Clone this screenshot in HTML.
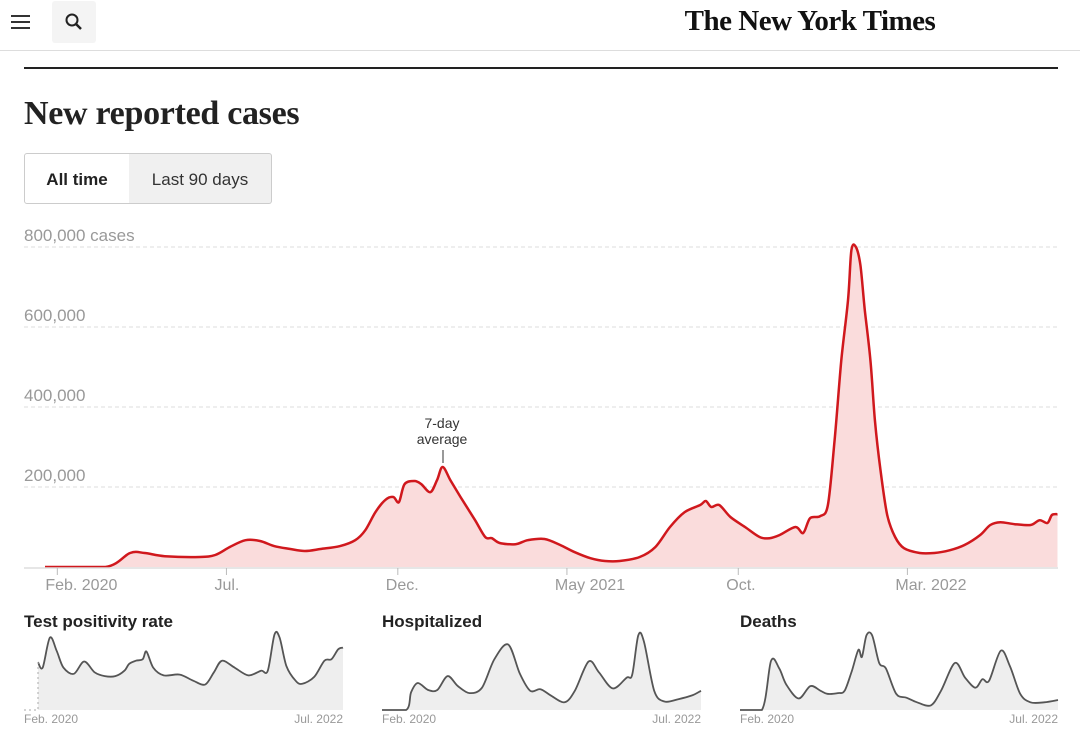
<!DOCTYPE html>
<html><head><meta charset="utf-8"><style>
body{margin:0;width:1080px;height:736px;overflow:hidden;background:#fff;font-family:"Liberation Sans",sans-serif;position:relative}
.abs{position:absolute}
</style></head><body>
<div class="abs" style="left:11px;top:12px;width:20px;height:20px">
 <div style="position:absolute;top:3px;width:19px;height:2px;background:#333"></div>
 <div style="position:absolute;top:9px;width:19px;height:2px;background:#333"></div>
 <div style="position:absolute;top:15px;width:19px;height:2px;background:#333"></div>
</div>
<div class="abs" style="left:52px;top:1px;width:44px;height:42px;background:#f4f4f4;border-radius:3px">
 <svg width="44" height="42"><circle cx="20" cy="19" r="5.5" fill="none" stroke="#222" stroke-width="2"/><line x1="24" y1="23" x2="29" y2="28" stroke="#222" stroke-width="2.5"/></svg>
</div>
<div class="abs" style="left:660px;top:5px;width:300px;text-align:center;font-family:'Liberation Serif',serif;font-weight:bold;font-size:29px;color:#111;letter-spacing:-0.5px">The New York Times</div>
<div class="abs" style="left:0;top:50px;width:1080px;height:1px;background:#ddd"></div>
<div class="abs" style="left:24px;top:67px;width:1034px;height:2px;background:#222"></div>
<div class="abs" style="left:24px;top:95px;font-family:'Liberation Serif',serif;font-weight:bold;font-size:34px;color:#222;letter-spacing:-0.3px">New reported cases</div>
<div class="abs" style="left:24px;top:153px;width:104px;height:49px;border:1px solid #ccc;border-radius:3px 0 0 3px;line-height:51px;text-align:center;font-weight:bold;font-size:17px;color:#222">All time</div>
<div class="abs" style="left:129px;top:153px;width:142px;height:49px;border:1px solid #ccc;border-left:none;border-radius:0 3px 3px 0;background:#f0f0f0;line-height:51px;text-align:center;font-size:17px;color:#333">Last 90 days</div>

<svg class="abs" style="left:0;top:0" width="1080" height="736" id="chart"></svg>

<script>
const days=[0,54,76,89,107,138,152,165,179,192,205,219,232,246,263,277,286,295,304,311,316,321,330,336,344,350,355,362,371,384,393,399,406,420,431,446,460,473,487,500,513,531,545,558,571,585,590,595,602,612,625,638,647,656,670,677,683,692,699,705,711,717,720,724,728,732,737,741,746,752,759,767,781,794,808,821,835,844,853,866,880,888,895,899,904];
const casesK=[0,0,35,35,27,25,30,50,67,65,52,45,40,45,52,67,92,137,168,175,162,207,215,207,187,217,250,217,175,117,75,72,60,57,67,70,55,37,22,15,15,25,50,100,137,155,165,150,155,125,100,75,72,80,100,85,122,127,155,317,517,667,792,800,755,642,517,367,242,130,75,47,35,35,42,55,80,105,112,107,105,117,110,130,132];
const yTicks=[200000,400000,600000,800000];
const yTickLabels=["200,000","400,000","600,000","800,000 cases"];
const xTickDays=[11,162,315,466,619,770];
const xTickLabels=["Feb. 2020","Jul.","Dec.","May 2021","Oct.","Mar. 2022"];
const posDays=[0,14,35,55,75,106,136,167,197,228,255,269,289,309,320,340,371,418,458,493,519,543,580,621,658,678,698,713,733,760,780,815,845,866,886,900];
const posVals=[.62,.55,.94,.77,.55,.47,.63,.49,.44,.44,.51,.6,.64,.66,.76,.55,.45,.46,.38,.33,.49,.64,.55,.45,.51,.51,.98,.94,.57,.38,.34,.43,.64,.66,.79,.81];
const hospDays=[0,68,82,101,130,156,185,214,247,282,317,356,389,418,447,476,515,544,583,612,651,690,706,723,739,768,797,836,875,900];
const hospVals=[0,0,.23,.35,.26,.26,.44,.31,.22,.29,.66,.85,.47,.25,.27,.19,.10,.25,.63,.49,.28,.42,.46,.97,.89,.25,.11,.14,.19,.25];
const deathDays=[0,62,88,111,131,166,199,228,247,277,296,316,335,345,358,374,394,413,442,471,501,540,569,608,637,666,686,705,738,764,793,822,861,900];
const deathVals=[0,0,.64,.54,.33,.15,.31,.25,.21,.22,.25,.5,.78,.69,.97,.97,.61,.54,.21,.16,.10,.06,.25,.61,.42,.29,.4,.38,.77,.57,.21,.10,.1,.13];

const svg=document.getElementById('chart');
const NS='http://www.w3.org/2000/svg';
function mk(t,a){const e=document.createElementNS(NS,t);for(const k in a)e.setAttribute(k,a[k]);svg.appendChild(e);return e;}
function smooth(P,ymax){
 let d='M'+P[0][0].toFixed(1)+','+P[0][1].toFixed(1);
 for(let i=0;i<P.length-1;i++){
  const p0=P[Math.max(0,i-1)],p1=P[i],p2=P[i+1],p3=P[Math.min(P.length-1,i+2)];
  const t=0.16;
  const c1=[p1[0]+(p2[0]-p0[0])*t,Math.min(ymax,p1[1]+(p2[1]-p0[1])*t)];
  const c2=[p2[0]-(p3[0]-p1[0])*t,Math.min(ymax,p2[1]-(p3[1]-p1[1])*t)];
  d+=' C'+c1[0].toFixed(1)+','+c1[1].toFixed(1)+' '+c2[0].toFixed(1)+','+c2[1].toFixed(1)+' '+p2[0].toFixed(1)+','+p2[1].toFixed(1);
 }
 return d;
}
const x=d=>45+d*1.12;
const y=v=>567-v*(320/800000);

yTicks.forEach((v,i)=>{
 const g=mk('line',{x1:24,x2:1058,y1:y(v),y2:y(v),stroke:'#ddd','stroke-dasharray':'4,3'});
 
 
 const t=mk('text',{x:24,y:y(v)-6,fill:'#999','font-size':17});
 t.textContent=yTickLabels[i];
 
 
});
const P=days.map((d,i)=>[x(d),y(casesK[i]*1000)]);
const lineD=smooth(P,y(0));
const area=mk('path',{d:lineD+' L'+x(days[days.length-1])+','+y(0)+' L'+x(days[0])+','+y(0)+'Z',fill:'#fadcdc'});


const line=mk('path',{d:lineD,fill:'none',stroke:'#d0181d','stroke-width':2.5,'stroke-linejoin':'round'});


const base=mk('line',{x1:24,x2:1058,y1:568,y2:568,stroke:'#ddd','stroke-width':1.5});


xTickDays.forEach((d,i)=>{
 const tk=mk('line',{x1:x(d),x2:x(d),y1:568,y2:575,stroke:'#bbb'});
 
 
 const t=mk('text',{x:x(d)-12,y:590,fill:'#999','font-size':16});
 t.textContent=xTickLabels[i];
 
 
});
const a1=mk('text',{x:442,y:428,'text-anchor':'middle','font-size':14,fill:'#333'});a1.textContent='7-day';


const a2=mk('text',{x:442,y:444,'text-anchor':'middle','font-size':14,fill:'#333'});a2.textContent='average';


const a3=mk('line',{x1:443,x2:443,y1:450,y2:463,stroke:'#333'});



function small(title,left,right,ds,vs,name){
 const sx=d=>left+d/900*(right-left);
 const sy=v=>710-v*77;
 const tt=mk('text',{x:left===38?24:left,y:627,'font-size':17,'font-weight':'bold',fill:'#222'});
 tt.textContent=title;
 
 
 const SP=ds.map((d,i)=>[sx(d),sy(vs[i])]);
 const sd=smooth(SP,710);
 const ar=mk('path',{d:sd+' L'+sx(900)+',710 L'+sx(0)+',710Z',fill:'#eee'});
 
 
 const ln=mk('path',{d:sd,fill:'none',stroke:'#555','stroke-width':1.8,'stroke-linejoin':'round'});
 
 
 const l1=mk('text',{x:left===38?24:left,y:723,'font-size':12,fill:'#999'});l1.textContent='Feb. 2020';
 
 
 const l2=mk('text',{x:right,y:723,'font-size':12,fill:'#999','text-anchor':'end'});l2.textContent='Jul. 2022';
 
 
}
small('Test positivity rate',38,343,posDays,posVals,'test-positivity');
const dl=mk('line',{x1:24,x2:38,y1:710,y2:710,stroke:'#aaa','stroke-dasharray':'2,3'});


const dl2=mk('line',{x1:38,x2:38,y1:662,y2:710,stroke:'#aaa','stroke-dasharray':'2,3'});


small('Hospitalized',382,701,hospDays,hospVals,'hospitalized');
small('Deaths',740,1058,deathDays,deathVals,'deaths');
</script>
</body></html>
